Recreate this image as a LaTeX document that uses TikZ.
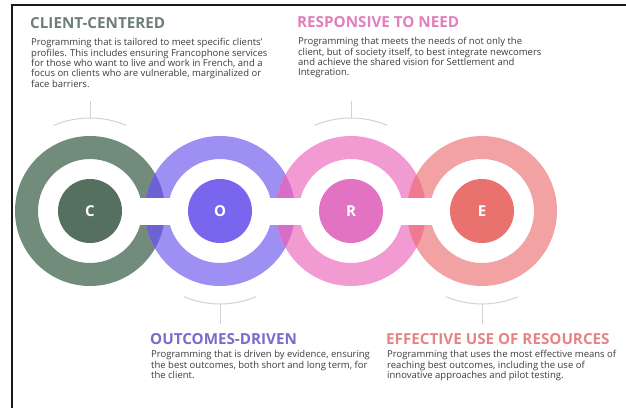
\documentclass[tikz,border=0pt]{standalone}
\usepackage{fontspec}
\setmainfont{Open Sans}
\begin{document}
\begin{tikzpicture}[x=1pt,y=-1pt,
  bracket/.style={draw=bracketcol,line width=1pt},
  disc/.style={circle,minimum size=64pt,inner sep=0pt,text=white,font=\fontsize{15}{15}\selectfont\bfseries},
  title/.style={anchor=base west,inner sep=0pt,font=\fontsize{15.2}{15}\selectfont\bfseries},
  body/.style={anchor=north west,inner sep=0pt,align=left,text=bodycol,font=\fontsize{9.5}{10.3}\selectfont}]
\definecolor{ringCcol}{HTML}{728C7C}
\definecolor{discCcol}{HTML}{56705F}
\definecolor{ringOcol}{HTML}{9D90F2}
\definecolor{discOcol}{HTML}{7A66EE}
\definecolor{ringRcol}{HTML}{F29AD2}
\definecolor{discRcol}{HTML}{E272C2}
\definecolor{ringEcol}{HTML}{F2A2A2}
\definecolor{discEcol}{HTML}{EA726E}
\definecolor{lapCO}{HTML}{6C62D6}
\definecolor{lapOR}{HTML}{D86CC8}
\definecolor{lapRE}{HTML}{F07A92}
\definecolor{bracketcol}{HTML}{D2D2D2}
\definecolor{bodycol}{HTML}{3C3C3C}
\definecolor{titleC}{HTML}{6E8076}
\definecolor{titleO}{HTML}{7A6CCA}
\definecolor{titleR}{HTML}{E27EBC}
\definecolor{titleE}{HTML}{E68484}

\useasboundingbox (0,0) rectangle (626,408);

% frame edges
\coordinate (fTL) at (12,5);
\coordinate (fTR) at (626,5);
\coordinate (fBL) at (12,408);
\draw[line width=1.8pt,black!90] (fTR) -- (fTL) -- (fBL);

% ring centres
\coordinate (cC) at (90,211);
\coordinate (cO) at (220,211);
\coordinate (cR) at (351,211);
\coordinate (cE) at (482,211);

% rings
\fill[ringCcol,even odd rule] (cC) circle[radius=75] (cC) circle[radius=52];
\fill[ringOcol,even odd rule] (cO) circle[radius=75] (cO) circle[radius=52];
\fill[ringRcol,even odd rule] (cR) circle[radius=75] (cR) circle[radius=52];
\fill[ringEcol,even odd rule] (cE) circle[radius=75] (cE) circle[radius=52];

% overlapping parts of neighbouring rings
\begin{scope}\clip (cC) circle[radius=75]; \fill[lapCO] (cO) circle[radius=75];\end{scope}
\begin{scope}\clip (cO) circle[radius=75]; \fill[lapOR] (cR) circle[radius=75];\end{scope}
\begin{scope}\clip (cR) circle[radius=75]; \fill[lapRE] (cE) circle[radius=75];\end{scope}

% white links between the ring openings
\fill[white] ([shift={(45,-13.5)}]cC) rectangle ([shift={(-45,13.5)}]cO);
\fill[white] ([shift={(45,-13.5)}]cO) rectangle ([shift={(-45,13.5)}]cR);
\fill[white] ([shift={(45,-13.5)}]cR) rectangle ([shift={(-45,13.5)}]cE);

% inner discs
\node[disc,fill=discCcol] (dC) at (cC) {C};
\node[disc,fill=discOcol] (dO) at (cO) {O};
\node[disc,fill=discRcol] (dR) at (cR) {R};
\node[disc,fill=discEcol] (dE) at (cE) {E};

% brackets
\draw[bracket] ([shift={(247:93)}]cC) arc[start angle=247,end angle=293,radius=93];
\draw[bracket] ([shift={(270:93)}]cC) -- ++(0,-17);
\draw[bracket] ([shift={(247:93)}]cR) arc[start angle=247,end angle=293,radius=93];
\draw[bracket] ([shift={(270:93)}]cR) -- ++(0,-17);
\draw[bracket] ([shift={(67:93)}]cO) arc[start angle=67,end angle=113,radius=93];
\draw[bracket] ([shift={(90:93)}]cO) -- ++(0,20);
\draw[bracket] ([shift={(67:93)}]cE) arc[start angle=67,end angle=113,radius=93];
\draw[bracket] ([shift={(90:93)}]cE) -- ++(0,20);

% texts
\node[title,text=titleC] (tC) at (30,28) {CLIENT-CENTERED};
\node[body] (bC) at (31,38.5) {Programming that is tailored to meet specific clients'\\
profiles. This includes ensuring Francophone services\\
for those who want to live and work in French, and a\\
focus on clients who are vulnerable, marginalized or\\
face barriers.};

\node[title,text=titleR] (tR) at (297,27) {RESPONSIVE TO NEED};
\node[body] (bR) at (298,37.5) {Programming that meets the needs of not only the\\
client, but of society itself, to best integrate newcomers\\
and achieve the shared vision for Settlement and\\
Integration.};

\node[title,text=titleO] (tO) at (150,344) {OUTCOMES-DRIVEN};
\node[body] (bO) at (151,350.5) {Programming that is driven by evidence, ensuring\\
the best outcomes, both short and long term, for\\
the client.};

\node[title,text=titleE] (tE) at (386,344) {EFFECTIVE USE OF RESOURCES};
\node[body] (bE) at (387,350.5) {Programming that uses the most effective means of\\
reaching best outcomes, including the use of\\
innovative approaches and pilot testing.};
\end{tikzpicture}
\end{document}
